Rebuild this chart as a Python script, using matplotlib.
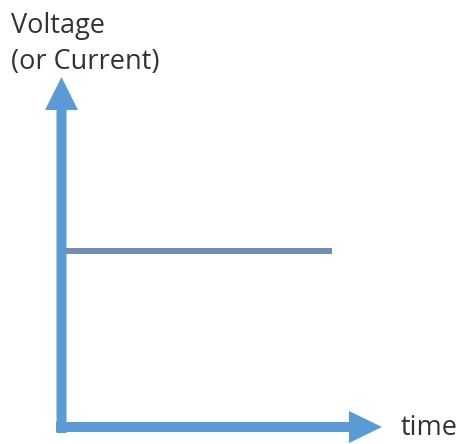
import matplotlib.pyplot as plt

# Axis endpoints (pixel-like units, y grows downward)
origin = (61.5, 427)
y_axis_top = 77
y_axis_bottom = 433
x_axis_left = 56
x_axis_right = 382

# Constant signal level
level_y = [251, 251]
level_x = [64, 332]

axis_color = "#5b9bd5"
level_color = "#6f8fb0"

fig = plt.figure(figsize=(4.63, 4.44), dpi=100)
ax = fig.add_axes([0, 0, 1, 1])
ax.set_xlim(0, 463)
ax.set_ylim(444, 0)
ax.axis("off")

# Vertical axis arrow
ax.arrow(origin[0], y_axis_bottom, 0, y_axis_top - y_axis_bottom,
         width=10, head_width=33, head_length=33,
         length_includes_head=True, color=axis_color, lw=0)
# Horizontal axis arrow
ax.arrow(x_axis_left, origin[1], x_axis_right - x_axis_left, 0,
         width=10, head_width=32, head_length=33,
         length_includes_head=True, color=axis_color, lw=0)

# Constant level line
ax.plot(level_x, level_y, color=level_color, lw=4.3, solid_capstyle="butt")

ax.text(11, 12, "Voltage\n(or Current)", fontsize=19.5, family="Open Sans",
        color="#333333", va="top", ha="left", linespacing=1.4)
ax.text(401, 428, "time", fontsize=19.5, family="Open Sans",
        color="#333333", va="center", ha="left")

fig.savefig("out.png", dpi=100)
